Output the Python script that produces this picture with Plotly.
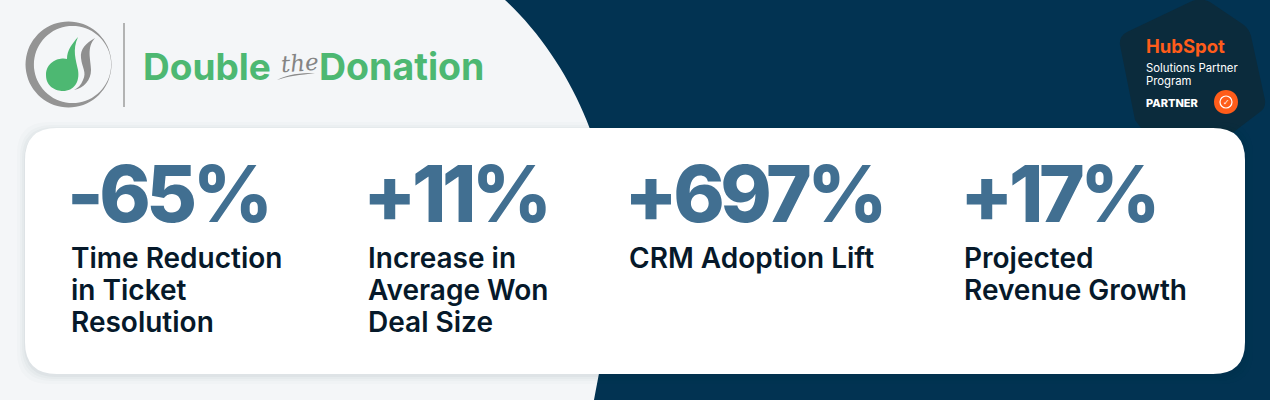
"""Double the Donation / HubSpot results banner, drawn on a 1270x400 pixel canvas."""
import numpy as np
import plotly.graph_objects as go

# values and texts
stat_values = ['-65%', '+11%', '+697%', '+17%']
stat_labels = [
    ['Time Reduction', 'in Ticket', 'Resolution'],
    ['Increase in', 'Average Won', 'Deal Size'],
    ['CRM Adoption Lift'],
    ['Projected', 'Revenue Growth'],
]
brand_words = ['Double', 'Donation']
partner_lines = ['Solutions Partner', 'Program']

# layout, in pixels
W, H = 1270, 400
value_x = [56.5, 352.5, 612, 949.5]
label_x = [70, 367, 628, 963]
BIG = 'Inter'
NAVY = '#023352'
PAPER = '#f4f6f8'
STEEL = '#416f91'
INK = '#06192a'
GREEN = '#4db872'
GRAY = '#8f8f8f'
ORANGE = '#ff5c1a'

fig = go.Figure()
# empty trace so the axes exist
fig.add_trace(go.Scatter(x=[0, W], y=[0, H], mode='markers', marker=dict(opacity=0), hoverinfo='skip'))


def blob(path, color, **kw):
    fig.add_shape(type='path', path=path, fillcolor=color, line=dict(width=0), layer='above', **kw)


def text(x, y, s, size, color, weight=400, family=BIG, anchor='left', **kw):
    fig.add_annotation(x=x, y=y, text=s, showarrow=False, xanchor=anchor, yanchor='middle',
                       font=dict(family=family, size=size, color=color, weight=weight),
                       borderpad=0, **kw)


def rounded(x0, y0, x1, y1, r):
    return (f'M{x0+r},{y0} L{x1-r},{y0} Q{x1},{y0} {x1},{y0+r} L{x1},{y1-r} Q{x1},{y1} {x1-r},{y1} '
            f'L{x0+r},{y1} Q{x0},{y1} {x0},{y1-r} L{x0},{y0+r} Q{x0},{y0} {x0+r},{y0} Z')


# backdrop
blob('M0,0 L505,0 C575,65 618,170 611,262 C608,320 604,350 594,400 L0,400 Z', PAPER)

# partner badge, sits behind the card
blob('M1190,2 Q1200,-3 1210,2 L1244,25 Q1249,29 1251,36 L1265,100 Q1266,108 1260,112 '
     'L1210,150 L1150,140 L1135,120 L1120,45 Q1119,36 1127,32 Z', '#0b2b3c')

# soft card shadow
for grow, alpha in [(8, 0.015), (5, 0.02), (3, 0.025), (1, 0.03)]:
    blob(rounded(25 - grow, 128 - grow + 2, 1245 + grow, 374 + grow + 2, 32), f'rgba(20,40,60,{alpha})')
blob(rounded(25, 128, 1245, 374, 32), '#ffffff')

# logo: gray crescent
t = np.linspace(0, 2 * np.pi, 73)
outer = [(68.5 + 43 * np.cos(a), 64.5 + 43 * np.sin(a)) for a in t]
inner = [(72.5 + 38.6 * np.cos(a), 64.5 + 38.6 * np.sin(a)) for a in t[::-1]]
ring = 'M' + ' L'.join(f'{x:.1f},{y:.1f}' for x, y in outer) + ' Z M' + \
       ' L'.join(f'{x:.1f},{y:.1f}' for x, y in inner) + ' Z'
blob(ring, '#949494')
# logo: green note and gray swoosh
blob('M78,37 C72,44 67,50 67,59 C62,57 46,60 46,75 C46,87 56,91 63,91 C74,91 80,82 78,70 '
     'C76,60 72,50 78,37 Z', GREEN)
blob('M95,38 C86,43 80,49 81,58 C82,68 87,72 83,80 C81,85 78,88 74,90 C84,88 91,80 91,70 '
     'C91,60 86,48 95,38 Z', GRAY)
fig.add_shape(type='line', x0=124, x1=124, y0=23, y1=107, line=dict(color='#9c9c9c', width=1.5), layer='above')

# wordmark
text(142, 66, brand_words[0], 37, GREEN, 700)
text(318, 66, brand_words[1], 37.5, GREEN, 700)
text(279, 63, '<i>the</i>', 23, '#848484', 400, 'DejaVu Serif', textangle=-4)
blob('M277,80 C288,74 300,73 315,73 C300,75 288,76 277,80 Z', '#8a8a8a')

# HubSpot badge text
text(1145, 46, 'HubSpot', 18.5, ORANGE, 700)
text(1145, 68, partner_lines[0], 11.3, '#ffffff', 400)
text(1145, 80.5, partner_lines[1], 11.3, '#ffffff', 400)
text(1145, 103, 'PARTNER', 11, '#ffffff', 800)
blob('M1214,102 C1214,86 1238,86 1238,102 C1238,118 1214,118 1214,102 Z', ORANGE)
fig.add_shape(type='circle', x0=1220, x1=1232, y0=96, y1=108, line=dict(color='#ffffff', width=1.2), layer='above')
text(1226, 102, '✓', 8, '#ffffff', 700, 'DejaVu Sans', anchor='center')

# the four stats
for i, value in enumerate(stat_values):
    text(value_x[i], 193.5, value, 78, STEEL, 800)
    for j, line in enumerate(stat_labels[i]):
        text(label_x[i], 258 + j * 32, line, 28, INK, 600)

fig.update_xaxes(range=[0, W], visible=False, fixedrange=True)
fig.update_yaxes(range=[H, 0], visible=False, fixedrange=True)
fig.update_layout(width=W, height=H, margin=dict(l=0, r=0, t=0, b=0), showlegend=False,
                  paper_bgcolor=NAVY, plot_bgcolor=NAVY)

# plotly's page keeps the browser's 8px body margin; tighten the big numbers too
tweak = """
document.body.style.margin = '0';
document.body.style.overflow = 'hidden';
document.querySelectorAll('.annotation-text').forEach(function (t) {
    if (parseFloat(t.style.fontSize) > 60) { t.style.letterSpacing = '-4.5px'; }
});
"""
fig.write_html('out.html', config={'displayModeBar': False}, post_script=tweak)
